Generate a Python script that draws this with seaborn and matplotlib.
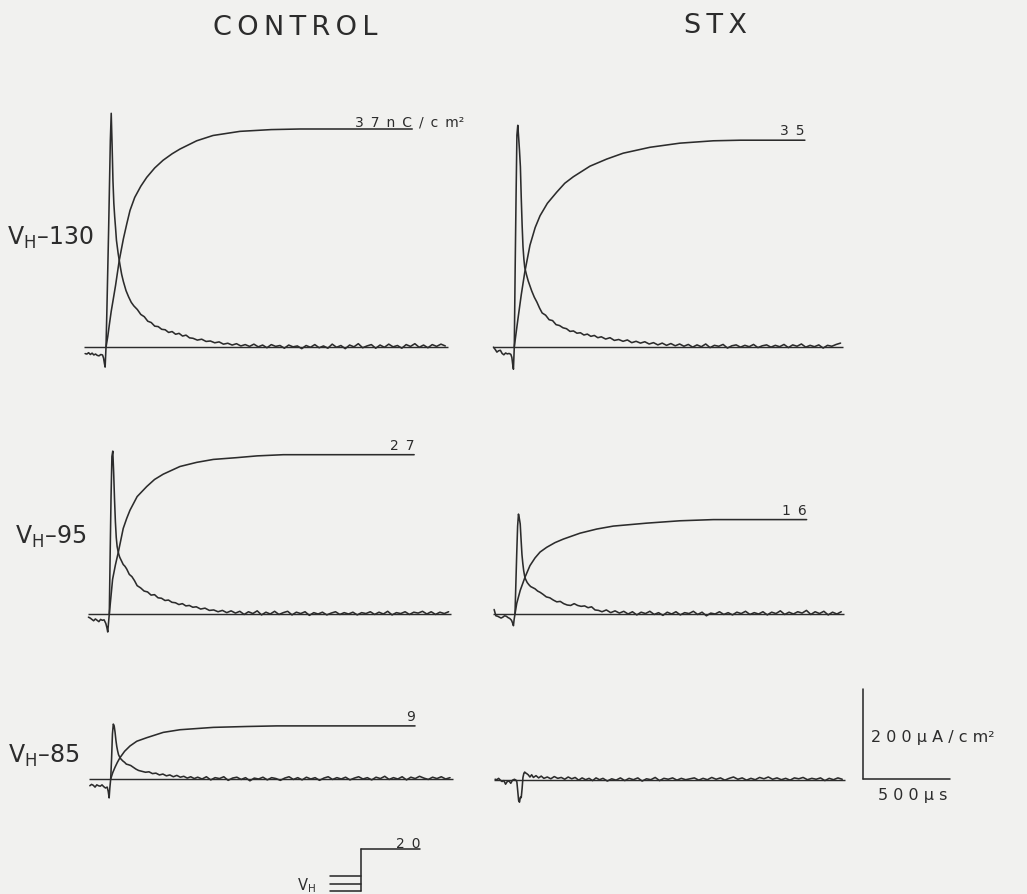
import matplotlib
matplotlib.use("Agg")
import matplotlib.pyplot as plt
import seaborn as sns

# ---------------------------------------------------------------------------
# Data: gating current (uA/cm2) and integrated charge (nC/cm2) after a step
# to +20 mV from three holding potentials, before (CONTROL) and in STX.
# ---------------------------------------------------------------------------
HOLDING_MV = [-130, -95, -85]
STEP_MV = 20

# common sampling times (us) relative to pulse onset
TIME_US = [
    -120, -110, -100, -90, -80, -70, -60, -50, -40, -30, -20, -14, -9, -5,
    0, 5, 10, 15, 20, 25, 30, 35, 40, 45, 50, 55, 60, 70, 80, 90, 100, 115, 130, 145, 160,
    180, 200, 220, 240, 260, 280, 300, 320, 340, 360, 380, 400, 420, 440, 460, 480,
    500, 525, 550, 575, 600, 625, 650, 675, 700, 725, 750, 775, 800, 825, 850, 875, 900, 925, 950, 975,
    1000, 1025, 1050, 1075, 1100, 1125, 1150, 1175, 1200, 1225, 1250, 1275, 1300, 1325, 1350, 1375, 1400, 1425, 1450, 1475,
    1500, 1525, 1550, 1575, 1600, 1625, 1650, 1675, 1700, 1725, 1750, 1775, 1800, 1825, 1850, 1875, 1900, 1925, 1950,
]

# CONTROL currents
I_CTRL_130 = [
    -14, -15, -12, -16, -13, -17, -15, -18, -19, -16, -17, -24, -36, -44,
    0, 80, 170, 260, 360, 460, 520, 450, 370, 320, 290, 265, 238, 208, 184, 162, 146, 126, 112, 100, 92,
    84, 73, 68, 58, 55, 47, 46, 40, 39, 33, 35, 29, 31, 25, 27, 21,
    20, 16, 18, 13, 14, 10, 12, 7, 9, 5, 8, 3, 6, 2, 7, 1, 5, -1, 6, 2,
    4, -2, 5, 1, 3, -3, 4, 0, 6, -1, 3, -2, 7, 0, 4, -3, 5, 1, 8, -1,
    3, 6, -2, 5, 0, 7, 1, 4, -2, 6, 2, 8, 0, 5, -1, 6, 2, 7, 3,
]
I_CTRL_95 = [
    -7, -9, -12, -15, -11, -14, -17, -12, -14, -13, -21, -30, -40, -22,
    0, 135, 260, 350, 362, 315, 255, 205, 170, 150, 140, 132, 126, 118, 110, 106, 100, 88, 83, 74, 63,
    58, 51, 49, 42, 43, 36, 35, 30, 31, 26, 25, 21, 23, 18, 19, 15,
    16, 11, 13, 8, 9, 5, 8, 3, 7, 2, 6, -1, 5, 1, 7, -2, 4, 0, 6, -1,
    3, 6, -2, 4, 1, 5, -3, 3, 0, 4, -2, 2, 5, -1, 3, 0, 4, -2, 3, 1,
    5, -1, 4, 0, 6, -2, 3, 1, 5, -1, 4, 2, 6, 0, 5, -1, 4, 1, 5,
]
I_CTRL_85 = [
    -15, -12, -14, -18, -13, -15, -16, -13, -17, -20, -18, -28, -42, -20,
    0, 45, 100, 122, 118, 104, 86, 72, 62, 54, 50, 46, 44, 40, 37, 33, 32, 30, 26, 22, 19,
    17, 15, 16, 12, 13, 9, 11, 7, 9, 5, 8, 4, 6, 2, 5, 1,
    4, 0, 5, -2, 3, 1, 5, -3, 2, 4, -1, 3, -4, 2, 0, 4, -2, 3, 1, -3,
    2, 5, -1, 3, -2, 4, 0, 3, -3, 2, 5, -1, 3, 0, 4, -2, 2, 5, 0, 3,
    -2, 4, 1, 6, -1, 3, 0, 5, -2, 4, 1, 6, 2, -1, 4, 1, 5, 0, 3,
]

# STX currents (records end at 1875 us)
I_STX_130 = [
    -1, -6, -12, -9, -8, -15, -18, -14, -16, -15, -17, -24, -40, -50,
    0, 175, 330, 470, 492, 465, 435, 400, 330, 270, 222, 195, 176, 160, 146, 135, 124, 110, 99, 86, 75,
    70, 60, 58, 49, 47, 42, 40, 34, 35, 30, 31, 26, 28, 23, 25, 20,
    22, 17, 20, 14, 16, 12, 15, 9, 12, 8, 11, 6, 9, 4, 8, 3, 7, 2, 6, 1,
    5, -1, 4, 0, 6, -2, 3, 1, 5, -3, 2, 4, -1, 3, 0, 5, -2, 2, 4, -1,
    3, 0, 5, -2, 4, 1, 6, -1, 3, 0, 4, -3, 3, 1, 5, 8,
]
I_STX_95 = [
    10, -4, -5, -7, -9, -7, -4, -5, -8, -10, -14, -20, -26, -12,
    0, 68, 135, 195, 222, 212, 200, 165, 132, 112, 96, 85, 78, 70, 65, 61, 59, 56, 51, 48, 44,
    38, 36, 31, 27, 28, 23, 20, 19, 23, 19, 17, 18, 14, 16, 9, 8,
    5, 9, 3, 7, 2, 6, 0, 5, -2, 4, 1, 6, -1, 3, -3, 4, 0, 5, -2, 3,
    1, 6, -1, 4, -4, 2, 0, 5, -1, 3, -2, 4, 1, 6, -1, 3, 0, 5, -2, 4,
    1, 7, -1, 4, 0, 5, 2, 8, -1, 5, 1, 6, -2, 4, 0, 5,
]
I_STX_85 = [
    1, 0, 3, -1, -4, -2, -10, -4, -3, -8, -1, 0, 1, 0,
    -1, -5, -25, -46, -50, -39, -40, -20, 5, 14, 17, 15, 14, 11, 6, 11, 5, 9, 4, 8, 3,
    6, 2, 7, 3, 5, 1, 6, 2, 5, -1, 4, 0, 3, -2, 4, 0,
    3, -3, 2, -1, 4, -2, 3, 0, 4, -3, 2, 0, 5, -2, 3, 1, 4, -1, 3, 0,
    2, 4, -1, 3, 0, 5, 1, 4, -1, 3, 6, 1, 4, -1, 3, 0, 5, 2, 6, 1,
    4, 0, 3, -1, 4, 2, 5, 0, 3, 1, 4, -2, 3, 0, 4, 1,
]

# integrated charge (nC/cm2)
Q_CTRL_130_T = [0, 10, 20, 30, 42, 55, 76, 100, 120, 138, 165, 200, 234, 280, 328, 380, 425, 521, 615, 770, 950, 1115, 1760]
Q_CTRL_130 = [0, 1.8, 4.0, 6.1, 8.2, 10.5, 14.7, 18.4, 21.0, 23.2, 25.4, 27.3, 28.8, 30.4, 31.7, 32.8, 33.6, 35.0, 35.9, 36.6, 36.9, 37.0, 37.0]
Q_CTRL_95_T = [0, 19, 35, 52, 80, 100, 119, 160, 215, 260, 310, 406, 502, 598, 732, 850, 1000, 1752]
Q_CTRL_95 = [0, 5.9, 8.3, 10.5, 14.5, 16.2, 17.6, 19.9, 21.6, 22.8, 23.7, 25.0, 25.7, 26.2, 26.5, 26.8, 27.0, 27.0]
Q_CTRL_85_T = [0, 12, 25, 38, 53, 80, 111, 150, 207, 302, 398, 590, 782, 954, 1749]
Q_CTRL_85 = [0, 1.1, 2.0, 2.8, 3.6, 4.7, 5.6, 6.4, 7.0, 7.9, 8.35, 8.75, 8.9, 9.0, 9.0]
Q_STX_130_T = [0, 20, 40, 60, 90, 120, 148, 190, 244, 290, 339, 435, 531, 626, 780, 952, 1144, 1300, 1670]
Q_STX_130 = [0, 4.5, 8.8, 12.6, 17.2, 20.2, 22.2, 24.3, 26.2, 27.7, 28.8, 30.6, 31.8, 32.8, 33.8, 34.5, 34.9, 35.0, 35.0]
Q_STX_95_T = [0, 10, 30, 57, 86, 115, 144, 182, 230, 278, 374, 470, 565, 757, 948, 1140, 1676]
Q_STX_95 = [0, 1.8, 4.0, 6.2, 8.2, 9.5, 10.5, 11.3, 12.1, 12.7, 13.7, 14.4, 14.9, 15.4, 15.8, 16.0, 16.0]

COLUMN_TITLES = ["CONTROL", "STX"]
CHARGE_UNIT = "nC/cm"

# calibration bar
SCALE_US = 500
SCALE_UA = 200

# ---------------------------------------------------------------------------
# Styling and layout
# ---------------------------------------------------------------------------
sns.set_theme(style="white")
plt.rcParams["font.family"] = ["DejaVu Sans"]
plt.rcParams["mathtext.default"] = "regular"

INK = "#2c2c2c"
PAPER = "#f1f1ef"
LW = 1.15

W, H = 1027, 895
PX_PER_US = 0.174     # horizontal pixels per microsecond
PX_PER_UA = 0.45      # vertical pixels per uA/cm2
PX_PER_NC = 5.9       # vertical pixels per nC/cm2

T_LIM = (-140, 2000)
I_LIM = (-80, 560)

fig = plt.figure(figsize=(W / 100, H / 100), dpi=100, facecolor=PAPER)


def spaced(text, gap):
    """Letter-spaced string, as in the wide lettering of the figure."""
    return gap.join(text)


def fig_text(x, y, s, **kw):
    kw.setdefault("color", INK)
    return fig.text(x / W, 1 - y / H, s, **kw)


def place_axes(x0, base, tlim, ylim, px_x, px_y):
    left = x0 + tlim[0] * px_x
    width = (tlim[1] - tlim[0]) * px_x
    top = base - ylim[1] * px_y
    height = (ylim[1] - ylim[0]) * px_y
    ax = fig.add_axes([left / W, 1 - (top + height) / H, width / W, height / H])
    ax.set_xlim(tlim)
    ax.set_ylim(ylim)
    ax.axis("off")
    ax.patch.set_alpha(0)
    return ax


PANELS = [
    # (column, row, onset px, baseline px, current, charge t, charge)
    (0, 0, 106.0, 348.3, I_CTRL_130, Q_CTRL_130_T, Q_CTRL_130),
    (0, 1, 109.3, 615.0, I_CTRL_95, Q_CTRL_95_T, Q_CTRL_95),
    (0, 2, 110.7, 780.0, I_CTRL_85, Q_CTRL_85_T, Q_CTRL_85),
    (1, 0, 514.3, 347.7, I_STX_130, Q_STX_130_T, Q_STX_130),
    (1, 1, 515.0, 615.0, I_STX_95, Q_STX_95_T, Q_STX_95),
    (1, 2, 516.0, 780.7, I_STX_85, None, None),
]

for col, row, x0, base, current, qt, q in PANELS:
    ax = place_axes(x0, base, T_LIM, I_LIM, PX_PER_US, PX_PER_UA)
    t = TIME_US[:len(current)]
    ax.hlines(0, t[0] - 5, t[-1] + 15, color=INK, lw=LW * 0.9)
    sns.lineplot(x=t, y=current, ax=ax, color=INK, lw=LW,
                 estimator=None, sort=False)
    if qt is not None:
        ax2 = ax.twinx()
        ax2.set_ylim(I_LIM[0] * PX_PER_UA / PX_PER_NC, I_LIM[1] * PX_PER_UA / PX_PER_NC)
        ax2.axis("off")
        sns.lineplot(x=qt, y=q, ax=ax2, color=INK, lw=LW,
                     estimator=None, sort=False)
        total = f"{q[-1]:.0f}"
        if col == 0 and row == 0:
            ax2.annotate(spaced(total + CHARGE_UNIT, "\u2002") + "²", xy=(qt[-1], q[-1]),
                         xytext=(-57, 3), textcoords="offset pixels",
                         ha="left", va="baseline", fontsize=10, color=INK)
        else:
            ax2.annotate(spaced(total, "\u2002"), xy=(qt[-1], q[-1]),
                         xytext=(0, 6), textcoords="offset pixels",
                         ha="right", va="baseline", fontsize=10, color=INK)

# holding-potential labels
for (lx, ly), vh in zip([(7, 245), (15, 544), (8, 763)], HOLDING_MV):
    fig_text(lx, ly, f"V$_H$\u2013{abs(vh)}", fontsize=17, ha="left", va="baseline")

# column titles
fig_text(295, 35, spaced(COLUMN_TITLES[0], "\u2009"), fontsize=19.5, ha="center", va="baseline")
fig_text(716, 33, spaced(COLUMN_TITLES[1], "\u2009"), fontsize=19.5, ha="center", va="baseline")

# calibration bars
sax = place_axes(862.7, 780.0, (-20, 600), (-20, 230), PX_PER_US, PX_PER_UA)
sns.lineplot(x=[0, 0], y=[0, SCALE_UA], ax=sax, color=INK, lw=LW, estimator=None, sort=False)
sns.lineplot(x=[0, SCALE_US], y=[0, 0], ax=sax, color=INK, lw=LW, estimator=None, sort=False)
fig_text(871, 742, spaced(f"{SCALE_UA}μA/cm", " ") + "²", fontsize=11.5, ha="left", va="baseline")
fig_text(878, 800, spaced(f"{SCALE_US}μs", " "), fontsize=11.5, ha="left", va="baseline")

# voltage protocol sketch: three holding levels stepped to +20 mV
pax = fig.add_axes([330 / W, 1 - 893 / H, 90 / W, 43 / H])
pax.set_xlim(-1.0, 1.93)
pax.set_ylim(-5.6, 0.05)
pax.axis("off")
pax.patch.set_alpha(0)
hold_levels = [-3.5, -4.5, -5.5]
for lvl in hold_levels:
    pax.plot([-1.0, 0.0], [lvl, lvl], color=INK, lw=LW, clip_on=False)
pax.plot([0.0, 0.0], [min(hold_levels), 0.0], color=INK, lw=LW, clip_on=False)
pax.plot([0.0, 1.93], [0.0, 0.0], color=INK, lw=LW, clip_on=False)
fig_text(420, 848, spaced(str(STEP_MV), "\u2002"), fontsize=10, ha="right", va="baseline")
fig_text(297, 890, "V$_H$", fontsize=10.5, ha="left", va="baseline")

fig.savefig("out.png", dpi=100, facecolor=PAPER)
